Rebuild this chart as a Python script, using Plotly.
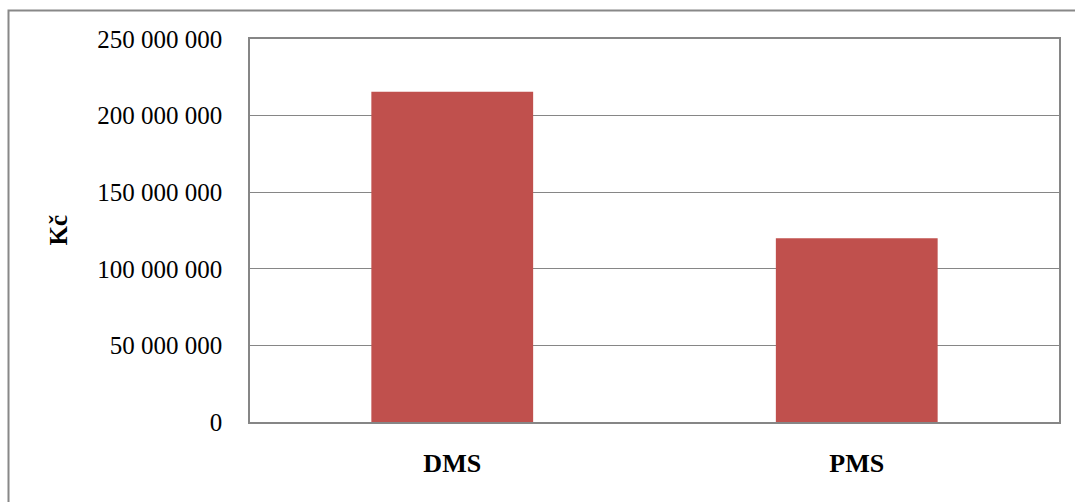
import plotly.graph_objects as go

categories = ["DMS", "PMS"]
values = [215600000, 119900000]
tick_vals = [0, 50000000, 100000000, 150000000, 200000000, 250000000]
tick_text = ["0", "50 000 000", "100 000 000", "150 000 000", "200 000 000", "250 000 000"]

W, H = 1075, 502
ml, mr, mt, mb = 250, 16, 39, 80
pw, ph = W - ml - mr, H - mt - mb

fig = go.Figure(go.Bar(x=categories, y=values, marker=dict(color="#C0504D", line=dict(width=0)), width=0.4))

fig.update_layout(
    width=W, height=H, margin=dict(l=ml, r=mr, t=mt, b=mb),
    paper_bgcolor="white", plot_bgcolor="white",
    font=dict(family="Liberation Serif, Times New Roman, serif", color="black"),
    showlegend=False, bargap=0.6,
)
fig.update_yaxes(range=[0, 250000000], tickvals=tick_vals, ticktext=tick_text,
                 showgrid=True, gridcolor="#868686", gridwidth=1,
                 showline=True, linecolor="#868686", linewidth=1.5, mirror=True,
                 tickfont=dict(size=25), ticks="", ticklabelstandoff=21, zeroline=False)
fig.update_xaxes(showline=True, linecolor="#868686", linewidth=1.5, mirror=True,
                 tickfont=dict(size=26, family="Liberation Serif"), ticks="", ticklabelstandoff=17,
                 tickprefix="<b>", ticksuffix="</b>")

fig.add_annotation(text="<b>Kč</b>", xref="paper", yref="paper",
                   x=(58 - ml) / pw, y=0.5, showarrow=False, textangle=-90,
                   font=dict(size=25), xanchor="center", yanchor="middle")

fig.add_shape(type="rect", xref="paper", yref="paper",
              x0=(8.5 - ml) / pw, x1=(W + 20 - ml) / pw,
              y0=-(H + 20 - mt - ph) / ph, y1=1 + (mt - 10.5) / ph,
              line=dict(color="#888888", width=2), fillcolor="rgba(0,0,0,0)", layer="below")

fig.write_html("out.html")
